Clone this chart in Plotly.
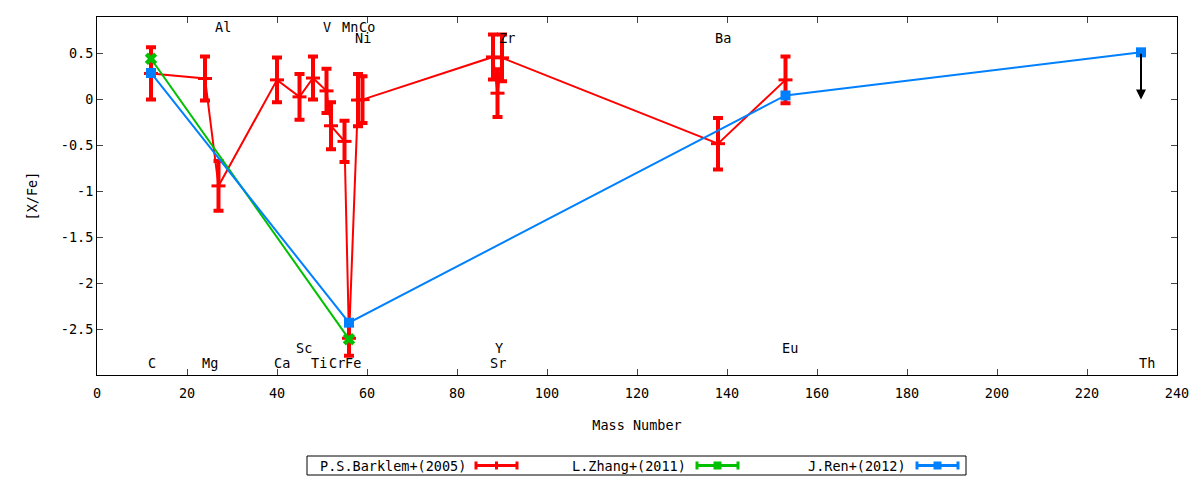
import plotly.graph_objects as go

# P.S.Barklem+(2005)
barklem_mass = [12, 24, 27, 40, 45, 48, 51, 52, 55, 56, 58, 59, 88, 89, 90, 138, 153]
barklem_xfe = [0.285, 0.23, -0.94, 0.215, 0.03, 0.235, 0.095, -0.285, -0.455, -2.6,
               -0.005, 0.0, 0.465, 0.07, 0.455, -0.48, 0.215]
barklem_err = [0.285, 0.24, 0.27, 0.245, 0.25, 0.235, 0.24, 0.255, 0.225, 0.19,
               0.285, 0.255, 0.245, 0.26, 0.255, 0.28, 0.255]

# L.Zhang+(2011)
zhang_mass = [12, 56]
zhang_xfe = [0.445, -2.61]

# J.Ren+(2012)
ren_mass = [12, 56, 153, 232]
ren_xfe = [0.29, -2.43, 0.045, 0.515]

# upper limit for Th
th_mass = 232
th_top = 0.515
th_bottom = 0.0

# element labels
elem_names = ["Al", "V", "Mn", "Co", "Ni", "Zr", "Ba",
              "Sc", "Y", "Eu",
              "C", "Mg", "Ca", "Ti", "Cr", "Fe", "Sr", "Th"]
elem_x = [28.0, 51.1, 56.3, 59.9, 59.1, 91.1, 139.2,
          46.1, 89.4, 154.1,
          12.2, 25.0, 41.2, 49.4, 53.3, 56.9, 89.0, 233.3]
elem_y = [0.79, 0.79, 0.79, 0.79, 0.675, 0.675, 0.675,
          -2.71, -2.71, -2.71,
          -2.87, -2.87, -2.87, -2.87, -2.87, -2.87, -2.87, -2.87]

y_ticks = [0.5, 0, -0.5, -1, -1.5, -2, -2.5]
y_tick_text = ["0.5", "0", "-0.5", "-1", "-1.5", "-2", "-2.5"]
x_ticks = list(range(0, 241, 20))

RED = "#ff0000"
GREEN = "#00c000"
BLUE = "#0080ff"
FONT = "DejaVu Sans Mono"
FS = 13.5

fig = go.Figure()

fig.add_trace(go.Scatter(
    x=barklem_mass, y=barklem_xfe, mode="lines+markers",
    line=dict(color=RED, width=2),
    marker=dict(symbol="line-ew", size=10, color=RED, line=dict(color=RED, width=3)),
    error_y=dict(type="data", array=barklem_err, color=RED, thickness=4, width=5),
    showlegend=False))

fig.add_trace(go.Scatter(
    x=zhang_mass, y=zhang_xfe, mode="lines+markers",
    line=dict(color=GREEN, width=2),
    marker=dict(symbol="x", size=11, color=GREEN, line=dict(width=0)),
    showlegend=False))

fig.add_trace(go.Scatter(
    x=ren_mass, y=ren_xfe, mode="lines+markers",
    line=dict(color=BLUE, width=2),
    marker=dict(symbol="square", size=10, color=BLUE),
    showlegend=False))

# Th upper-limit arrow
fig.add_annotation(x=th_mass, y=th_bottom, ax=th_mass, ay=th_top,
                   xref="x", yref="y", axref="x", ayref="y",
                   showarrow=True, arrowhead=2, arrowsize=1, arrowwidth=2,
                   arrowcolor="black", text="", standoff=0)

for name, ex, ey in zip(elem_names, elem_x, elem_y):
    fig.add_annotation(x=ex, y=ey, xref="x", yref="y", text=name, showarrow=False,
                       font=dict(family=FONT, size=FS, color="black"),
                       xanchor="center", yanchor="middle")

# legend drawn gnuplot style: text then sample (positions in page pixels)
L, R, T, B = 97, 1177, 17, 375
def px(v):
    return (v - L) / (R - L)
def py(v):
    return (B - v) / (B - T)

fig.add_shape(type="rect", xref="paper", yref="paper",
              x0=px(307), x1=px(966), y0=py(475), y1=py(456),
              line=dict(color="black", width=1), fillcolor="white")

legend_items = [("P.S.Barklem+(2005)", RED, 468, 476),
                ("L.Zhang+(2011)", GREEN, 688, 697),
                ("J.Ren+(2012)", BLUE, 908, 917)]
ly = 465.5
for label, col, text_end, s0 in legend_items:
    s1 = s0 + 41
    fig.add_annotation(x=px(text_end), y=py(ly), xref="paper", yref="paper",
                       text=label, showarrow=False, xanchor="right", yanchor="middle",
                       font=dict(family=FONT, size=FS, color="black"))
    fig.add_shape(type="line", xref="paper", yref="paper",
                  x0=px(s0), x1=px(s1), y0=py(ly), y1=py(ly),
                  line=dict(color=col, width=3))
    for cx in (s0, s1):
        fig.add_shape(type="line", xref="paper", yref="paper",
                      x0=px(cx), x1=px(cx), y0=py(ly - 4), y1=py(ly + 4),
                      line=dict(color=col, width=3))
    mid = (s0 + s1) / 2
    if col == RED:
        fig.add_shape(type="line", xref="paper", yref="paper",
                      x0=px(mid), x1=px(mid), y0=py(ly - 4), y1=py(ly + 4),
                      line=dict(color=col, width=3))
    else:
        fig.add_shape(type="rect", xref="paper", yref="paper",
                      x0=px(mid - 4), x1=px(mid + 4), y0=py(ly + 4), y1=py(ly - 4),
                      line=dict(width=0), fillcolor=col)

# page body adds 8px offset, so margins are shifted by that amount
fig.update_layout(
    width=1200, height=480,
    margin=dict(l=89, r=31, t=9, b=113),
    paper_bgcolor="white", plot_bgcolor="white",
    font=dict(family=FONT, size=FS, color="black"),
    showlegend=False,
    xaxis=dict(range=[0, 240], tickvals=x_ticks, ticks="inside", ticklen=6,
               ticklabelstandoff=6,
               showline=True, mirror="ticks", linecolor="black", linewidth=1,
               showgrid=False, zeroline=False,
               title=dict(text="Mass Number", standoff=20,
                          font=dict(family=FONT, size=FS))),
    yaxis=dict(range=[-3, 0.9], tickvals=y_ticks, ticktext=y_tick_text,
               ticks="inside", ticklen=6,
               showline=True, mirror="ticks", linecolor="black", linewidth=1,
               showgrid=False, zeroline=False,
               title=dict(text="[X/Fe]", standoff=20,
                          font=dict(family=FONT, size=FS))),
)

fig.write_html("out.html")
